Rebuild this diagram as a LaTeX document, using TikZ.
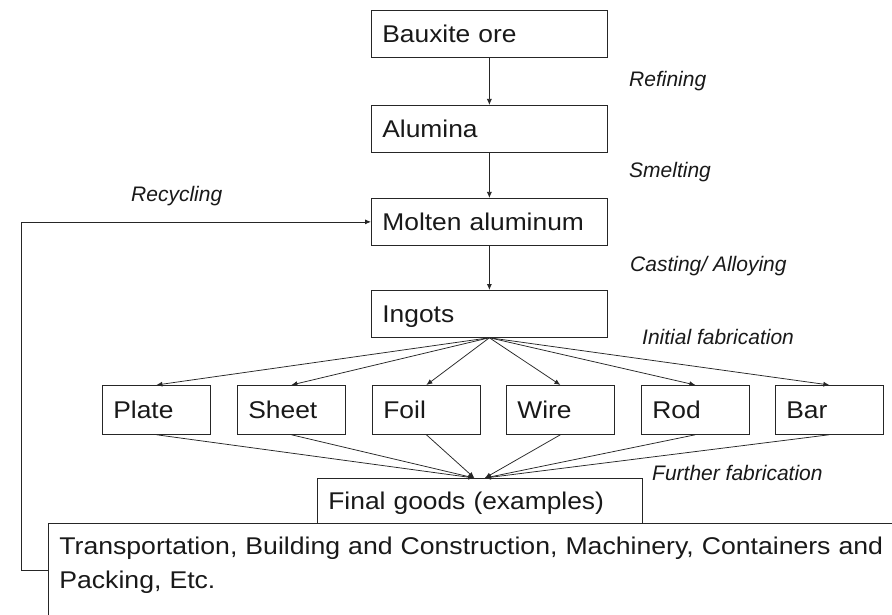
\documentclass[tikz,border=0pt]{standalone}
\usepackage{fontspec}
\setmainfont{Liberation Sans}
\newfontfamily\boxfont{Liberation Sans}[FakeStretch=1.09]
\newfontfamily\widefont{Liberation Sans}[FakeStretch=1.1]
\usetikzlibrary{arrows.meta}
\begin{document}
\begin{tikzpicture}[x=1pt,y=-1pt,
  line/.style={draw=black!85, line width=0.75pt},
  arr/.style={line, -{Latex[length=6pt,width=5pt]}},
  box/.style={draw=black!85, line width=0.75pt, rectangle, anchor=north west,
    inner xsep=11pt, inner ysep=0pt, text height=17.5pt, text depth=0pt,
    align=left, font=\boxfont\fontsize{24.2}{29}\selectfont, text=black!90},
  bigbox/.style={box, minimum height=47pt, text width=214pt},
  smallbox/.style={box, minimum height=49pt, text width=86pt},
  lbl/.style={anchor=west, inner sep=0pt, font=\itshape\fontsize{21}{24}\selectfont, text=black!90}
]
\clip (0,0) rectangle (892,615);
\fill[white] (0,0) rectangle (892,615);

\node[bigbox] (bauxite) at (371,10) {Bauxite ore};
\node[bigbox] (alumina) at (371,105) {Alumina};
\node[bigbox] (molten) at (371,198) {Molten aluminum};
\node[bigbox] (ingots) at (371,290) {Ingots};

\node[smallbox] (plate) at (102,385) {Plate};
\node[smallbox] (sheet) at (237,385) {Sheet};
\node[smallbox] (foil) at (372,385) {Foil};
\node[smallbox] (wire) at (506,385) {Wire};
\node[smallbox] (rod) at (641,385) {Rod};
\node[smallbox] (bar) at (775,385) {Bar};

\node[box, minimum height=45pt, text width=303pt] (final) at (317,478) {Final goods (examples)};

\node[draw=black!85, line width=0.75pt, anchor=north west, inner xsep=11pt, inner ysep=14pt,
  align=left, text width=860pt, text depth=80pt,
  font=\widefont\fontsize{24.2}{33.5}\selectfont, text=black!90] (uses) at (48,523)
  {Transportation, Building and Construction, Machinery, Containers and\\Packing, Etc.};

\node[lbl] (refining) at (629,81) {Refining};
\node[lbl] (smelting) at (629,172) {Smelting};
\node[lbl] (casting) at (630,266) {Casting/ Alloying};
\node[lbl] (initial) at (642,337) {Initial fabrication};
\node[lbl] (further) at (652,473) {Further fabrication};
\node[lbl] (recycling) at (131,196) {Recycling};

\draw[arr] (bauxite) -- (alumina);
\draw[arr] (alumina) -- (molten);
\draw[arr] (molten) -- (ingots);

\foreach \n in {plate,sheet,foil,wire,rod,bar}
  \draw[arr] (ingots.south) -- (\n.north);

\coordinate (fl) at ([xshift=-5.5pt]final.north);
\coordinate (fr) at ([xshift=5pt]final.north);
\foreach \n in {plate,sheet,foil}
  \draw[arr] (\n.south) -- (fl);
\foreach \n in {wire,rod,bar}
  \draw[arr] (\n.south) -- (fr);

\coordinate (rj) at (48,570);
\coordinate (rc) at (21,570);
\draw[arr] (rj) -- (rc) |- (molten.west);
\end{tikzpicture}
\end{document}
